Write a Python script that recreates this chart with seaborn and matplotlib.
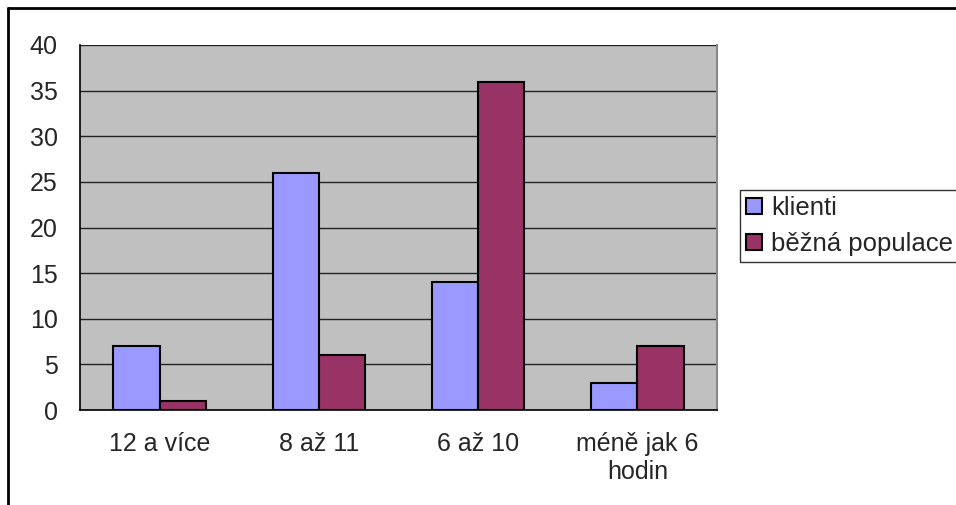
import matplotlib
matplotlib.use("Agg")
import matplotlib.pyplot as plt
from matplotlib.lines import Line2D
import seaborn as sns
import pandas as pd

categories = ["12 a více", "8 až 11", "6 až 10", "méně jak 6\nhodin"]
klienti = [7, 26, 14, 3]
bezna_populace = [1, 6, 36, 7]
series_names = ["klienti", "běžná populace"]
colors = ["#9999FF", "#993366"]

df = pd.DataFrame({
    "kategorie": categories * 2,
    "hodnota": klienti + bezna_populace,
    "skupina": [series_names[0]] * len(categories) + [series_names[1]] * len(categories),
})

sns.set_style("white")
plt.rcParams["font.family"] = ["Liberation Sans", "DejaVu Sans"]

fig = plt.figure(figsize=(9.56, 5.05), dpi=100)
ax = fig.add_axes([80 / 956, 1 - 410 / 505, (717 - 80) / 956, (410 - 45) / 505])
ax.set_facecolor("#C0C0C0")

sns.barplot(data=df, x="kategorie", y="hodnota", hue="skupina",
            palette=colors, saturation=1, width=0.58, edgecolor="black",
            linewidth=1.5, ax=ax, zorder=3)

ax.set_ylim(0, 40)
ax.set_xlim(-0.5, len(categories) - 0.5)
ax.set_yticks(range(0, 41, 5))
ax.set_xticks([i - 0.5 for i in range(len(categories) + 1)], minor=True)
ax.tick_params(axis="x", which="minor", length=6, width=1, color="black", direction="out")
ax.tick_params(axis="x", which="major", length=0, pad=16, labelsize=18)
ax.tick_params(axis="y", length=7, width=1, color="black", direction="out", pad=9, labelsize=18)
for lbl in ax.get_xticklabels():
    lbl.set_linespacing(1.2)
ax.yaxis.grid(True, color="#222222", linewidth=1.0, zorder=1)
ax.set_axisbelow(True)
ax.set_xlabel("")
ax.set_ylabel("")

for side in ["left", "bottom"]:
    ax.spines[side].set_color("black")
    ax.spines[side].set_linewidth(1.2)
ax.spines["top"].set_visible(False)
ax.spines["right"].set_color("#888888")
ax.spines["right"].set_linewidth(1.5)

handles, labels = ax.get_legend_handles_labels()
ax.legend(handles, labels, loc="center left", bbox_to_anchor=(740 / 956, 1 - 226 / 505),
          bbox_transform=fig.transFigure, frameon=True, fancybox=False,
          edgecolor="black", fontsize=18.5, handlelength=0.6, handleheight=0.6,
          handletextpad=0.35, borderpad=0.25, labelspacing=0.45, borderaxespad=0)

# outer frame along the top and left edges
fig.add_artist(Line2D([8 / 956, 8 / 956], [1 - 8 / 505, 0], transform=fig.transFigure,
                      color="black", linewidth=2))
fig.add_artist(Line2D([8 / 956, 1], [1 - 8 / 505, 1 - 8 / 505], transform=fig.transFigure,
                      color="black", linewidth=2))

fig.savefig("out.png", dpi=100)
